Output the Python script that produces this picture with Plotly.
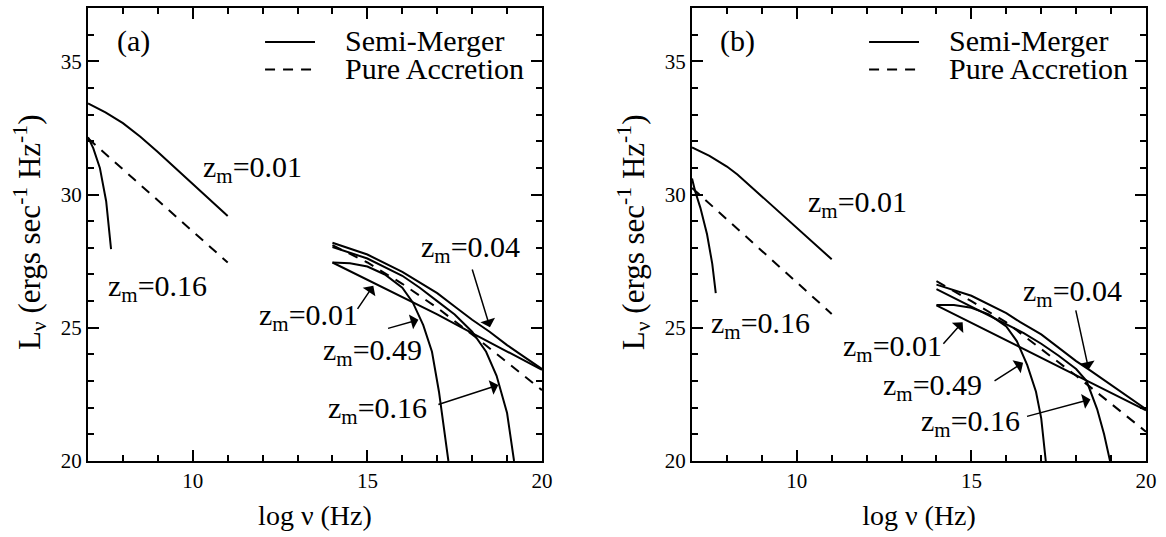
import plotly.graph_objects as go

FONT = "'Liberation Serif', 'Times New Roman', Times, 'DejaVu Serif', serif"

# ---------------- panel (a) ----------------
# radio branch
a_radio_semi_v = [7, 7.5, 8, 8.5, 9, 10, 11]
a_radio_semi_L = [33.42, 33.08, 32.68, 32.17, 31.6, 30.4, 29.19]
a_radio_acc_v = [7, 9, 11]
a_radio_acc_L = [32.11, 29.78, 27.45]
a_radio_z16_v = [7, 7.15, 7.34, 7.52, 7.66]
a_radio_z16_L = [32.15, 31.74, 31.0, 29.75, 27.95]
# high-energy branch
a_hi_z01_v = [14, 15, 16, 17, 18, 19, 20]
a_hi_z01_L = [27.45, 26.8, 26.15, 25.5, 24.8, 24.1, 23.42]
a_hi_z04_v = [14, 15, 16, 17, 17.5, 18, 18.5, 19, 19.5, 20]
a_hi_z04_L = [28.19, 27.75, 27.1, 26.3, 25.8, 25.3, 24.85, 24.35, 23.9, 23.45]
a_hi_z16_v = [14, 15, 16, 16.5, 17, 17.5, 18, 18.4, 18.7, 19.0, 19.2]
a_hi_z16_L = [28.03, 27.6, 26.95, 26.5, 26.0, 25.5, 24.85, 24.1, 23.2, 21.8, 20.0]
a_hi_z49_v = [14, 14.5, 15, 15.5, 16, 16.3, 16.6, 16.85, 17.05, 17.2, 17.32]
a_hi_z49_L = [27.45, 27.42, 27.3, 27.0, 26.5, 25.95, 25.1, 24.1, 22.6, 21.2, 20.0]
a_hi_acc_v = [14, 15, 16, 17, 18, 19, 20]
a_hi_acc_L = [28.1, 27.45, 26.65, 25.75, 24.75, 23.7, 22.66]

# ---------------- panel (b) ----------------
b_radio_semi_v = [7, 7.5, 8, 8.3, 9, 10, 11]
b_radio_semi_L = [31.77, 31.45, 31.05, 30.75, 29.93, 28.75, 27.57]
b_radio_acc_v = [7, 9, 11]
b_radio_acc_L = [30.25, 27.88, 25.52]
b_radio_z16_v = [7, 7.09, 7.24, 7.43, 7.58, 7.68]
b_radio_z16_L = [30.6, 30.12, 29.5, 28.51, 27.4, 26.3]
b_hi_z01_v = [14, 15, 16, 17, 18, 19, 20]
b_hi_z01_L = [25.84, 25.19, 24.53, 23.87, 23.21, 22.56, 21.9]
b_hi_z04_v = [14, 15, 16, 16.4, 17, 17.55, 18, 18.4, 19, 19.5, 20]
b_hi_z04_L = [26.62, 26.2, 25.55, 25.21, 24.75, 24.2, 23.75, 23.4, 22.85, 22.4, 21.94]
b_hi_z16_v = [14, 15, 16, 16.5, 17, 17.5, 18, 18.3, 18.6, 18.8, 18.97]
b_hi_z16_L = [26.45, 25.8, 25.15, 24.8, 24.4, 23.95, 23.45, 23.0, 21.95, 21.0, 20.0]
b_hi_z49_v = [14, 14.5, 15, 15.5, 16, 16.3, 16.6, 16.85, 17.0, 17.13]
b_hi_z49_L = [25.85, 25.85, 25.75, 25.5, 25.05, 24.5, 23.6, 22.6, 21.6, 20.0]
b_hi_acc_v = [14, 15, 16, 17, 18, 19, 20]
b_hi_acc_L = [26.75, 26.0, 25.2, 24.2, 23.2, 22.15, 21.1]

# curve labels: (text, x, y) and arrows: (tail_x, tail_y, tip_x, tip_y)
a_labels = [("0.01", 11.70, 30.94), ("0.16", 9.0, 26.5), ("0.04", 17.94, 27.95),
            ("0.01", 13.30, 25.40), ("0.49", 15.16, 24.08), ("0.16", 15.28, 21.91)]
a_arrows = [(14.69, 25.65, 15.17, 26.58), (15.55, 24.96, 16.46, 25.30),
            (16.99, 22.10, 18.75, 22.85), (17.99, 27.24, 18.51, 25.02)]
b_labels = [("0.01", 11.73, 29.64), ("0.16", 8.96, 25.09), ("0.04", 17.89, 26.32),
            ("0.01", 12.74, 24.23), ("0.49", 13.88, 22.78), ("0.16", 14.97, 21.43)]
b_arrows = [(14.16, 24.34, 14.75, 25.21), (15.62, 22.97, 16.48, 23.69),
            (16.55, 21.66, 18.41, 22.31), (17.98, 25.71, 18.36, 23.43)]

panel_tags = ["(a)", "(b)"]
legend_names = ["Semi-Merger", "Pure Accretion"]
y_title = "L<sub>\u03bd</sub> (ergs sec<sup>-1</sup> Hz<sup>-1</sup>)"
x_title = "log \u03bd (Hz)"

fig = go.Figure()

def add_curve(v, L, xa, ya, dashed=False):
    fig.add_trace(go.Scatter(
        x=v, y=L, mode="lines", xaxis=xa, yaxis=ya, showlegend=False,
        line=dict(color="black", width=2, dash="10px,8px" if dashed else "solid"),
        hoverinfo="skip"))

panels = [
    ("x", "y", [
        (a_radio_semi_v, a_radio_semi_L, False), (a_radio_acc_v, a_radio_acc_L, True),
        (a_radio_z16_v, a_radio_z16_L, False), (a_hi_z01_v, a_hi_z01_L, False),
        (a_hi_z04_v, a_hi_z04_L, False), (a_hi_z16_v, a_hi_z16_L, False),
        (a_hi_z49_v, a_hi_z49_L, False), (a_hi_acc_v, a_hi_acc_L, True)],
     a_labels, a_arrows),
    ("x2", "y2", [
        (b_radio_semi_v, b_radio_semi_L, False), (b_radio_acc_v, b_radio_acc_L, True),
        (b_radio_z16_v, b_radio_z16_L, False), (b_hi_z01_v, b_hi_z01_L, False),
        (b_hi_z04_v, b_hi_z04_L, False), (b_hi_z16_v, b_hi_z16_L, False),
        (b_hi_z49_v, b_hi_z49_L, False), (b_hi_acc_v, b_hi_acc_L, True)],
     b_labels, b_arrows),
]

annotations = []
shapes = []
for i, (xa, ya, curves, labels, arrows) in enumerate(panels):
    for v, L, d in curves:
        add_curve(v, L, xa, ya, d)
    for txt, lx, ly in labels:
        annotations.append(dict(
            text=f"z<sub>m</sub>={txt}", x=lx, y=ly, xref=xa, yref=ya,
            showarrow=False, xanchor="center", yanchor="middle",
            font=dict(family=FONT, size=30, color="black")))
    for tx, ty, hx, hy in arrows:
        annotations.append(dict(
            text="", x=hx, y=hy, ax=tx, ay=ty, xref=xa, yref=ya,
            axref=xa, ayref=ya, showarrow=True, arrowhead=1,
            arrowsize=1.7, arrowwidth=1.5, arrowcolor="black", standoff=0))
    dom_x = f"{xa} domain"
    dom_y = f"{ya} domain"
    # panel tag
    annotations.append(dict(
        text=panel_tags[i], x=0.101, y=0.928, xref=dom_x, yref=dom_y,
        showarrow=False, xanchor="center", yanchor="middle",
        font=dict(family=FONT, size=30, color="black")))
    # vertical axis title
    annotations.append(dict(
        text=y_title, x=-0.128, y=0.505, xref=dom_x, yref=dom_y,
        textangle=-90, showarrow=False, xanchor="center", yanchor="middle",
        font=dict(family=FONT, size=31, color="black")))
    # key
    for k, (name, yy) in enumerate(zip(legend_names, [0.925, 0.864])):
        shapes.append(dict(
            type="line", xref=dom_x, yref=dom_y, x0=0.39, x1=0.5, y0=yy, y1=yy,
            line=dict(color="black", width=2, dash="solid" if k == 0 else "10px,8px")))
        annotations.append(dict(
            text=name, x=0.5617, y=yy + 0.003, xref=dom_x, yref=dom_y,
            showarrow=False, xanchor="left", yanchor="middle",
            font=dict(family=FONT, size=30, color="black")))

axis_common = dict(
    showline=True, linewidth=2, linecolor="black", mirror="allticks",
    ticks="inside", ticklen=11, tickwidth=1.5, tickcolor="black",
    showgrid=False, zeroline=False,
    tickfont=dict(family=FONT, size=21, color="black"),
    title_font=dict(family=FONT, size=28, color="black"),
)
xaxis_common = dict(axis_common, range=[7, 20], tickmode="array", tickvals=[10, 15, 20],
                    minor=dict(ticks="inside", ticklen=6, tickwidth=1.5, tickcolor="black",
                               dtick=1, tick0=0, showgrid=False),
                    title_text=x_title, title_standoff=13)
yaxis_common = dict(axis_common, range=[20, 37], tickmode="array", tickvals=[20, 25, 30, 35],
                    minor=dict(ticks="inside", ticklen=6, tickwidth=1.5, tickcolor="black",
                               dtick=1, tick0=0, showgrid=False))

fig.update_layout(
    width=1166, height=537,
    margin=dict(l=88, r=20, t=6, b=76),
    paper_bgcolor="white", plot_bgcolor="white",
    font=dict(family=FONT, color="black"),
    xaxis=dict(xaxis_common, domain=[0, 0.4291], anchor="y"),
    yaxis=dict(yaxis_common, domain=[0, 1], anchor="x"),
    xaxis2=dict(xaxis_common, domain=[0.5709, 1], anchor="y2"),
    yaxis2=dict(yaxis_common, domain=[0, 1], anchor="x2"),
    annotations=annotations,
    shapes=shapes,
    showlegend=False,
)

fig.write_html("out.html")
